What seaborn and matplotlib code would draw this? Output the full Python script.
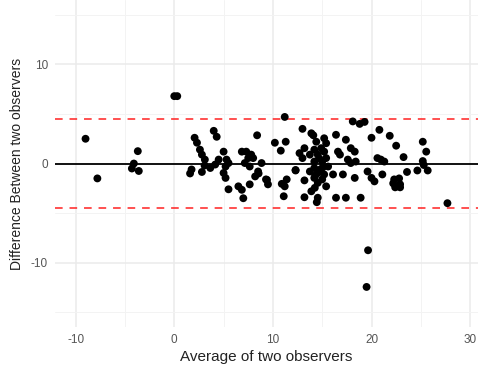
import pandas as pd
import matplotlib
matplotlib.use("Agg")
import matplotlib.pyplot as plt
import seaborn as sns
from matplotlib.ticker import MultipleLocator

# Bland-Altman data: average of the two observers vs their difference
avg_obs = [
    -9.0, -7.8, -3.7, -4.1, -4.3, -3.6, 0.0, 0.3, 1.6, 1.75,
    2.06, 2.3, 2.6, 2.8, 3.1, 3.07, 2.8, 3.65, 4.0, 4.3,
    4.5, 4.15, 5.0, 5.3, 5.2, 5.0, 5.2, 5.5, 5.5, 6.5,
    6.85, 6.85, 7.0, 7.3, 7.8, 7.5, 8.0, 7.15, 7.65, 8.85,
    8.4, 8.5, 8.2, 7.65, 9.3, 9.5, 10.2, 11.3, 10.8, 11.2,
    10.9, 11.4, 11.2, 11.1, 12.3, 13.0, 13.2, 12.7, 13.0, 13.9,
    13.75, 13.2, 13.2, 13.75, 13.9, 14.1, 14.4, 15.2, 15.4, 14.9,
    14.2, 15.2, 14.55, 15.4, 14.2, 15.0, 14.2, 15.05, 15.6, 14.55,
    15.2, 14.2, 14.55, 14.25, 14.55, 14.45, 15.4, 14.8, 14.7, 15.0,
    14.3, 16.4, 17.4, 16.6, 16.8, 17.9, 18.3, 17.6, 17.9, 18.4,
    19.6, 20.0, 20.3, 20.6, 18.3, 17.1, 16.1, 16.4, 17.4, 18.9,
    18.1, 18.8, 19.3, 20.0, 20.8, 21.85, 22.5, 23.25, 20.95, 21.3,
    21.1, 22.3, 22.8, 22.2, 22.9, 22.4, 22.9, 23.6, 24.65, 25.2,
    25.55, 25.2, 25.3, 25.7, 27.7, 19.65, 19.5, 9.4, 8.55, 12.3,
]
diff_obs = [
    2.5, -1.5, 1.25, 0.0, -0.5, -0.75, 6.8, 6.8, -1.0, -0.6,
    2.6, 2.1, 1.4, 0.9, 0.4, -0.2, -0.85, -0.45, 3.3, 2.7,
    0.4, -0.1, 1.2, 0.4, -0.3, -0.95, -1.45, -2.6, 0.05, -2.3,
    -2.65, 1.2, -3.5, 1.2, 0.9, 0.55, 0.55, 0.05, -0.3, 0.05,
    2.85, -0.8, -1.3, -2.1, -1.6, -2.1, 2.1, 2.2, 1.3, 4.7,
    -2.05, -1.6, -2.3, -3.3, -0.7, 3.5, 1.55, 1.05, 0.55, 3.05,
    0.9, -1.7, -3.4, -0.8, -2.8, 2.85, 2.2, 2.55, 2.05, 1.55,
    1.4, 1.2, 0.9, 0.55, 0.2, 0.2, -0.45, -0.4, -0.3, -0.95,
    -1.1, -1.45, -1.95, -2.45, -3.45, -3.9, -2.3, -0.6, 0.5, -1.6,
    -1.2, 2.9, 2.4, 1.2, 0.9, 1.55, 1.2, 0.4, 0.05, 0.2,
    -0.8, -1.45, -1.8, 0.55, -1.45, -1.1, -1.1, -3.45, -3.45, -3.45,
    4.25, 4.0, 4.2, 2.6, 3.4, 2.8, 1.8, 0.65, 0.4, 0.2,
    -1.1, -1.6, -1.5, -2.0, -2.1, -2.4, -2.4, -0.85, -0.7, 2.2,
    1.2, 0.25, -0.15, -0.7, -4.0, -8.75, -12.45, -1.65, -1.0, -0.65,
]

# mean difference and limits of agreement
MEAN_DIFF = 0.0
LOA_UPPER = 4.5
LOA_LOWER = -4.5

df = pd.DataFrame({"avg": avg_obs, "diff": diff_obs})

sns.set_theme(style="whitegrid")
plt.rcParams["font.family"] = ["Liberation Sans", "DejaVu Sans"]
plt.rcParams["axes.unicode_minus"] = False

fig = plt.figure(figsize=(4.78, 3.7), dpi=100)
ax = fig.add_axes([0.115, 0.116, 0.885, 0.884])

sns.scatterplot(data=df, x="avg", y="diff", color="black", s=32,
                edgecolor="none", ax=ax, zorder=3)

ax.axhline(MEAN_DIFF, color="#111111", lw=1.4, zorder=2)
ax.axhline(LOA_UPPER, color="#FF2020", lw=1.1, ls=(0, (5, 4.5)), zorder=2)
ax.axhline(LOA_LOWER, color="#FF2020", lw=1.1, ls=(0, (5, 4.5)), zorder=2)

ax.set_xlim(-12.1, 30.8)
ax.set_ylim(-16.5, 16.5)
ax.xaxis.set_major_locator(MultipleLocator(10))
ax.xaxis.set_minor_locator(MultipleLocator(5))
ax.yaxis.set_major_locator(MultipleLocator(10))
ax.yaxis.set_minor_locator(MultipleLocator(5))

ax.set_facecolor("white")
ax.grid(which="major", color="#EBEBEB", lw=1.1)
ax.grid(which="minor", color="#F3F3F3", lw=0.7)
for sp in ax.spines.values():
    sp.set_visible(False)
ax.tick_params(which="both", length=0, labelsize=8.5, labelcolor="#555555", pad=5)

ax.set_xlabel("Average of two observers", fontsize=11, color="#222222", labelpad=3)
ax.set_ylabel("Difference Between two observers", fontsize=10, color="#222222", labelpad=5)

fig.savefig("out.png", dpi=100)
